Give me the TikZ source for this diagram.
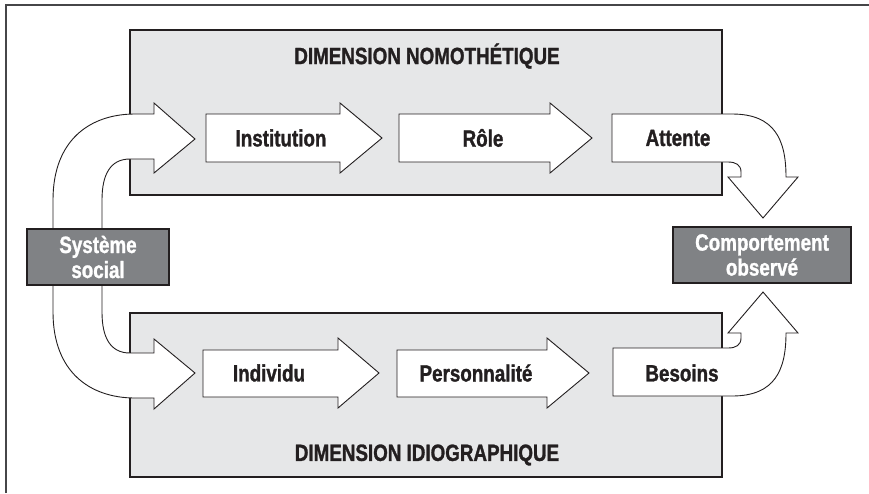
\documentclass[tikz,border=0pt]{standalone}
\usepackage{fontspec}
\newfontfamily\labfont{Liberation Sans}[FakeStretch=0.80, BoldFeatures={FakeBold=1.2}]
\definecolor{ink}{RGB}{35,31,32}
\definecolor{boxgray}{RGB}{230,231,232}
\definecolor{darkbox}{RGB}{128,130,133}
\definecolor{framegray}{RGB}{70,70,72}
\begin{document}
\begin{tikzpicture}[x=1pt,y=-1pt,
  gbox/.style={draw=ink, line width=1.4pt, fill=boxgray},
  arr/.style={draw=ink, line width=0.9pt, fill=white, line join=miter},
  lbl/.style={font=\labfont\bfseries\fontsize{23.5}{25}\selectfont, text=ink, inner sep=0pt},
  ttl/.style={font=\labfont\bfseries\fontsize{23.5}{25}\selectfont, text=ink, inner sep=0pt},
  dbox/.style={draw=ink, line width=1.2pt, fill=darkbox, text=white, align=center,
    font=\labfont\bfseries\fontsize{23.5}{25}\selectfont, minimum height=56pt, inner sep=0pt}]
\useasboundingbox (0,0) rectangle (869,493);
% frame (top and left only)
\draw[framegray, line width=1.8pt] (6,493) -- (6,5) -- (869,5);
% grey dimension boxes
\path[gbox] (130,30) rectangle (722,195);
\path[gbox] (130,313) rectangle (722,477);
\node[ttl] (tnomo) at (427,56) {DIMENSION NOMOTHÉTIQUE};
\node[ttl] (tidio) at (427,455) {DIMENSION IDIOGRAPHIQUE};
% straight arrows
\path[arr] (206,114) -- (340,114) -- (340,103) -- (382,138) -- (340,173) -- (340,162) -- (206,162) -- cycle;
\path[arr] (399,114) -- (550,114) -- (550,103) -- (592,138) -- (550,173) -- (550,162) -- (399,162) -- cycle;
\path[arr] (203,350) -- (338,350) -- (338,338) -- (379,373) -- (338,408) -- (338,397) -- (203,397) -- cycle;
\path[arr] (397,350) -- (547,350) -- (547,338) -- (589,373) -- (547,408) -- (547,397) -- (397,397) -- cycle;
% curved left arrows
\path[arr] (53,240) -- (53,200) .. controls (53,140) and (90,114) .. (135,114) -- (154,114) -- (154,103) -- (195,139) -- (154,173) -- (154,159) -- (130,159) .. controls (110,159) and (102,175) .. (102,200) -- (102,240) -- cycle;
\path[arr] (53,272) -- (53,312) .. controls (53,372) and (90,398) .. (135,398) -- (154,398) -- (154,409) -- (195,373) -- (154,339) -- (154,353) -- (130,353) .. controls (110,353) and (102,337) .. (102,312) -- (102,272) -- cycle;
% curved right arrows
\path[arr] (612,114) -- (732,114) .. controls (775,114) and (786,140) .. (786,177) -- (798,177) -- (763,218) -- (728,177) -- (741,177) -- (741,172) .. controls (741,165) and (736,162) .. (728,162) -- (612,162) -- cycle;
\path[arr] (613,396) -- (732,396) .. controls (775,396) and (786,370) .. (786,333) -- (798,333) -- (763,292) -- (728,333) -- (741,333) -- (741,338) .. controls (741,345) and (736,348) .. (728,348) -- (613,348) -- cycle;
% dark boxes
\node[dbox, minimum width=142pt] (sys) at (98,257) {Système\\social};
\node[dbox, minimum width=178pt] (comp) at (762,255) {Comportement\\observé};
% labels
\node[lbl] (inst) at (281,138) {Institution};
\node[lbl] (role) at (483,138) {Rôle};
\node[lbl] (att) at (678,138) {Attente};
\node[lbl] (indiv) at (269,373) {Individu};
\node[lbl] (pers) at (476,373) {Personnalité};
\node[lbl] (bes) at (682,373) {Besoins};
\end{tikzpicture}
\end{document}
